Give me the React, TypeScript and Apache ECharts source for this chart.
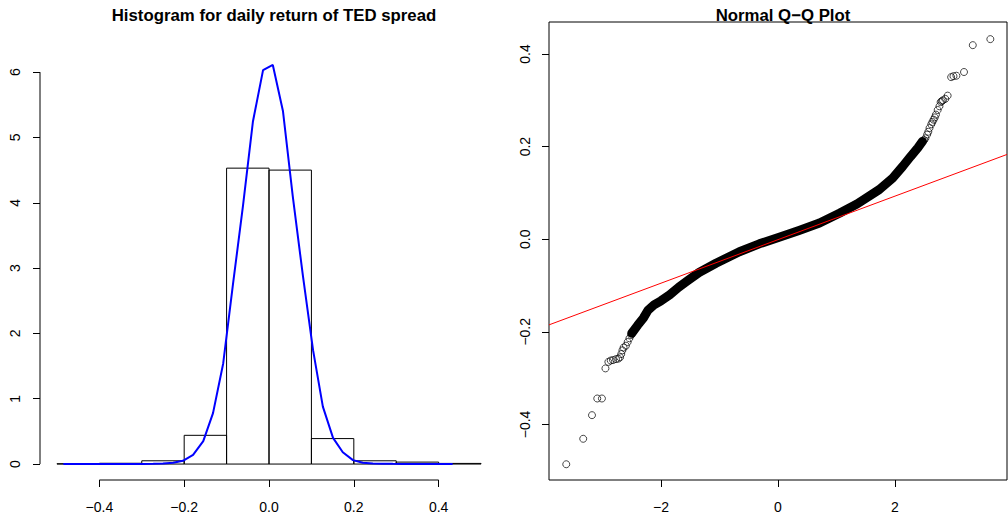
import React, { useEffect, useRef } from "react";
import * as echarts from "echarts";

const FONT = '"Liberation Sans", Arial, Helvetica, sans-serif';

// ---------- Histogram data ----------
const histBreaks = [-0.5, -0.4, -0.3, -0.2, -0.1, 0, 0.1, 0.2, 0.3, 0.4, 0.5];
const histDensity = [0.005, 0.012, 0.05, 0.44, 4.53, 4.5, 0.39, 0.05, 0.03, 0.01];

const densityX = [
  -0.485, -0.462, -0.438, -0.414, -0.391, -0.367, -0.344, -0.32, -0.297, -0.273,
  -0.25, -0.226, -0.203, -0.179, -0.155, -0.132, -0.108, -0.085, -0.061, -0.038,
  -0.014, 0.009, 0.033, 0.056, 0.08, 0.104, 0.127, 0.151, 0.174, 0.198,
  0.221, 0.245, 0.268, 0.292, 0.315, 0.339, 0.363, 0.386, 0.41, 0.433,
];
const densityY = [
  0, 0, 0, 0, 0, 0, 0, 0, 0, 0.005,
  0.01, 0.02, 0.05, 0.14, 0.35, 0.78, 1.54, 2.75, 3.97, 5.24,
  6.03, 6.11, 5.4, 4.1, 2.88, 1.74, 0.88, 0.4, 0.18, 0.06,
  0.02, 0.01, 0.005, 0.003, 0.002, 0.002, 0.001, 0.001, 0, 0,
];

const histXTicks = [-0.4, -0.2, 0, 0.2, 0.4];
const histYTicks = [0, 1, 2, 3, 4, 5, 6];
const histXRange = [-0.54, 0.54];
const histYRange = [-0.244, 6.354];

// ---------- Q-Q data ----------
// dense body of the Q-Q plot (centre of the band of overlapping points)
const qqBandX = [
  -2.5, -2.4, -2.3, -2.22, -2.12, -2.0, -1.85, -1.7, -1.55, -1.35, -1.06, -0.66,
  -0.32, 0.02, 0.36, 0.71, 1.05, 1.35, 1.73, 1.96, 2.13, 2.27, 2.39, 2.47,
];
const qqBandY = [
  -0.203, -0.186, -0.17, -0.153, -0.142, -0.133, -0.12, -0.104, -0.09, -0.072,
  -0.052, -0.027, -0.01, 0.004, 0.019, 0.035, 0.056, 0.076, 0.107, 0.132, 0.157,
  0.179, 0.197, 0.211,
];
// individually visible points in the tails
const qqTailX = [
  -3.62, -3.33, -3.18, -3.09, -3.01, -2.95, -2.9, -2.86, -2.82, -2.77, -2.73,
  -2.7, -2.68, -2.66, -2.64, -2.6, -2.57, -2.54, -2.51,
  2.5, 2.52, 2.55, 2.57, 2.59, 2.62, 2.64, 2.66, 2.68, 2.7, 2.73, 2.76, 2.78,
  2.8, 2.82, 2.86, 2.9, 2.96, 3.0, 3.05, 3.18, 3.33, 3.63,
];
const qqTailY = [
  -0.486, -0.431, -0.38, -0.344, -0.344, -0.279, -0.265, -0.262, -0.261, -0.259,
  -0.258, -0.255, -0.248, -0.24, -0.234, -0.23, -0.222, -0.214, -0.207,
  0.214, 0.218, 0.226, 0.232, 0.24, 0.248, 0.253, 0.258, 0.263, 0.269, 0.279,
  0.287, 0.296, 0.298, 0.3, 0.303, 0.31, 0.35, 0.352, 0.353, 0.361, 0.419, 0.432,
];
const qqLineIntercept = -0.001;
const qqLineSlope = 0.047;

const qqXTicks = [-2, 0, 2];
const qqYTicks = [-0.4, -0.2, 0, 0.2, 0.4];
const qqXRange = [-3.915, 3.915];
const qqYRange = [-0.52, 0.469];

const fmt = (v: number, d: number) => {
  const s = Math.abs(v).toFixed(d);
  return v < 0 ? "\u2212" + s : s;
};

function buildOption(): any {
  const tickStyle = { show: true, inside: false, length: 7, lineStyle: { color: "#000", width: 1 } };
  const labelBase = { color: "#000", fontFamily: FONT, fontSize: 14 };
  const noLine = { show: false, onZero: false };
  const titleStyle = { fontFamily: FONT, fontSize: 16.8, fontWeight: "bold", color: "#000" };
  return {
    animation: false,
    backgroundColor: "#fff",
    title: [
      {
        text: "Histogram for daily return of TED spread",
        left: 269,
        top: 2,
        textAlign: "center",
        textStyle: titleStyle,
      },
      {
        text: "Normal Q\u2212Q Plot",
        left: 778,
        top: 2,
        textAlign: "center",
        textStyle: titleStyle,
      },
    ],
    grid: [
      { left: 40, top: 49, width: 458, height: 431, show: false },
      {
        left: 549,
        top: 22,
        width: 458,
        height: 458,
        show: true,
        borderColor: "#000",
        borderWidth: 1,
        backgroundColor: "transparent",
      },
    ],
    xAxis: [
      {
        type: "value",
        gridIndex: 0,
        min: histXRange[0],
        max: histXRange[1],
        axisLine: noLine,
        splitLine: { show: false },
        axisTick: { ...tickStyle, customValues: histXTicks },
        axisLabel: { ...labelBase, margin: 20, customValues: histXTicks, formatter: (v: number) => fmt(v, 1) },
      },
      {
        type: "value",
        gridIndex: 1,
        min: qqXRange[0],
        max: qqXRange[1],
        axisLine: noLine,
        splitLine: { show: false },
        axisTick: { ...tickStyle, customValues: qqXTicks },
        axisLabel: { ...labelBase, margin: 20, customValues: qqXTicks, formatter: (v: number) => fmt(v, 0) },
      },
    ],
    yAxis: [
      {
        type: "value",
        gridIndex: 0,
        min: histYRange[0],
        max: histYRange[1],
        axisLine: noLine,
        splitLine: { show: false },
        axisTick: { ...tickStyle, customValues: histYTicks },
        axisLabel: {
          ...labelBase,
          margin: 18,
          rotate: 90,
          customValues: histYTicks,
          formatter: (v: number) => fmt(v, 0),
        },
      },
      {
        type: "value",
        gridIndex: 1,
        min: qqYRange[0],
        max: qqYRange[1],
        axisLine: noLine,
        splitLine: { show: false },
        axisTick: { ...tickStyle, customValues: qqYTicks },
        axisLabel: {
          ...labelBase,
          margin: 17,
          rotate: 90,
          customValues: qqYTicks,
          formatter: (v: number) => fmt(v, 1),
        },
      },
    ],
    series: [
      {
        type: "custom",
        xAxisIndex: 0,
        yAxisIndex: 0,
        silent: true,
        clip: false,
        data: histDensity.map((d, i) => [histBreaks[i], histBreaks[i + 1], d]),
        encode: { x: [0, 1], y: 2 },
        renderItem: (params: any, api: any) => {
          const p0 = api.coord([api.value(0), api.value(2)]);
          const p1 = api.coord([api.value(1), 0]);
          return {
            type: "rect",
            shape: { x: p0[0], y: p0[1], width: p1[0] - p0[0], height: p1[1] - p0[1] },
            style: { fill: "none", stroke: "#000", lineWidth: 1 },
          };
        },
      },
      {
        type: "line",
        xAxisIndex: 0,
        yAxisIndex: 0,
        silent: true,
        symbol: "none",
        data: densityX.map((x, i) => [x, densityY[i]]),
        lineStyle: { color: "#0000ff", width: 2 },
        z: 5,
      },
      // axis spines of the histogram (span first to last tick, like R)
      {
        type: "line",
        xAxisIndex: 0,
        yAxisIndex: 0,
        silent: true,
        clip: false,
        symbol: "none",
        data: [
          [histXRange[0], histYTicks[0]],
          [histXRange[0], histYTicks[histYTicks.length - 1]],
        ],
        lineStyle: { color: "#000", width: 1 },
      },
      {
        type: "line",
        xAxisIndex: 0,
        yAxisIndex: 0,
        silent: true,
        clip: false,
        symbol: "none",
        data: [
          [histXTicks[0], histYRange[0]],
          [histXTicks[histXTicks.length - 1], histYRange[0]],
        ],
        lineStyle: { color: "#000", width: 1 },
      },
      // Q-Q dense band
      {
        type: "line",
        xAxisIndex: 1,
        yAxisIndex: 1,
        silent: true,
        symbol: "none",
        data: qqBandX.map((x, i) => [x, qqBandY[i]]),
        lineStyle: { color: "#000", width: 9, cap: "round", join: "round" },
        z: 2,
      },
      {
        type: "scatter",
        xAxisIndex: 1,
        yAxisIndex: 1,
        silent: true,
        symbol: "circle",
        symbolSize: 7,
        data: qqTailX.map((x, i) => [x, qqTailY[i]]),
        itemStyle: { color: "rgba(0,0,0,0)", borderColor: "#000", borderWidth: 0.9 },
        z: 3,
      },
      {
        type: "line",
        xAxisIndex: 1,
        yAxisIndex: 1,
        silent: true,
        symbol: "none",
        data: [
          [qqXRange[0], qqLineIntercept + qqLineSlope * qqXRange[0]],
          [qqXRange[1], qqLineIntercept + qqLineSlope * qqXRange[1]],
        ],
        lineStyle: { color: "#ff0000", width: 1 },
        z: 4,
      },
    ],
  };
}

export default function App() {
  const ref = useRef<HTMLDivElement>(null);
  useEffect(() => {
    const chart = echarts.init(ref.current!, null, { renderer: "svg" });
    chart.setOption(buildOption());
    return () => chart.dispose();
  }, []);
  return (
    <div
      ref={ref}
      style={{ position: "fixed", left: 0, top: 0, width: 1008, height: 520, background: "#fff" }}
    />
  );
}
